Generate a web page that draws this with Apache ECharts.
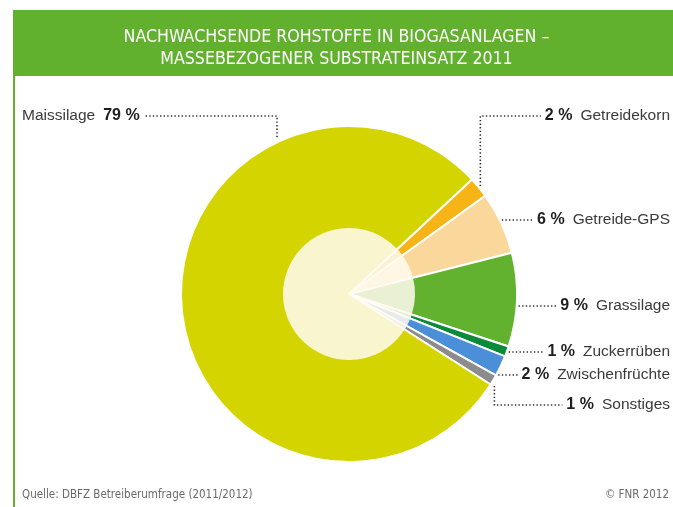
<!DOCTYPE html>
<html>
<head>
<meta charset="utf-8">
<script src="https://cdn.jsdelivr.net/npm/echarts@6/dist/echarts.min.js"></script>
<style>
html,body{margin:0;padding:0;background:#fff;}
#chart{width:673px;height:507px;}
</style>
</head>
<body>
<div id="chart"></div>
<script>
// ---- data ----
const categories = ['Getreidekorn', 'Getreide-GPS', 'Grassilage', 'Zuckerrüben', 'Zwischenfrüchte', 'Sonstiges', 'Maissilage'];
const values = [2, 6, 9, 1, 2, 1, 79];
const titleLines = ['NACHWACHSENDE ROHSTOFFE IN BIOGASANLAGEN –', 'MASSEBEZOGENER SUBSTRATEINSATZ 2011'];
const sourceText = 'Quelle: DBFZ Betreiberumfrage (2011/2012)';
const copyrightText = '© FNR 2012';

// ---- style / layout ----
const colors = ['#F6B417', '#FAD89C', '#63B22F', '#0B8A3B', '#4A8FD8', '#8C8C8C', '#D4D500'];
const labelY = [116, 220, 306, 352, 375, 405, 116];
const CX = 349, CY = 294, R = 168, R_IN = 66, START = 43;
const TEXT_FONT = "'Liberation Sans', Arial, sans-serif";
const COND_FONT = "'DejaVu Sans Condensed', 'Liberation Sans Narrow', sans-serif";
const GREEN = '#62B12E';

const total = values.reduce((a, b) => a + b, 0);
function sliceAngles(i) {
  let before = 0;
  for (let k = 0; k < i; k++) before += values[k];
  const a0 = START - 360 * before / total;
  const a1 = a0 - 360 * values[i] / total;
  return [a0, a1, (a0 + a1) / 2];
}
function polar(angDeg, r) {
  const a = angDeg * Math.PI / 180;
  return [CX + r * Math.cos(a), CY - r * Math.sin(a)];
}

const data = categories.map((c, i) => ({ name: c, value: values[i], itemStyle: { color: colors[i] } }));

const chart = echarts.init(document.getElementById('chart'), null, { renderer: 'canvas' });
chart.setOption({
  animation: false,
  backgroundColor: '#ffffff',
  graphic: [
    { type: 'rect', shape: { x: 13, y: 10, width: 660, height: 66 }, style: { fill: GREEN }, z: 0 },
    { type: 'rect', shape: { x: 13, y: 76, width: 2, height: 431 }, style: { fill: GREEN }, z: 0 },
    { type: 'text', left: 22, top: 489, style: { text: sourceText, font: '11.5px ' + COND_FONT, fill: '#6a6a6a' } },
    { type: 'text', right: 4, top: 489, style: { text: copyrightText, font: '11.5px ' + COND_FONT, fill: '#6a6a6a' } }
  ],
  title: {
    text: titleLines.join('\n'),
    left: 'center',
    top: 21,
    textStyle: { color: '#ffffff', fontFamily: COND_FONT, fontSize: 17.6, fontWeight: 'normal', lineHeight: 22 }
  },
  series: [
    {
      type: 'pie',
      center: [CX, CY],
      radius: [0, R],
      startAngle: START,
      clockwise: true,
      avoidLabelOverlap: false,
      silent: true,
      data: data,
      itemStyle: { borderColor: '#ffffff', borderWidth: 2 },
      label: {
        show: true,
        position: 'outside',
        formatter: function (p) {
          if (p.dataIndex === values.length - 1) return '{n|' + p.name + '}{s| }{v|' + p.value + ' %}';
          return '{v|' + p.value + ' %}{s| }{n|' + p.name + '}';
        },
        rich: {
          v: { fontFamily: TEXT_FONT, fontSize: 16, fontWeight: 'bold', color: '#1e1e1e' },
          n: { fontFamily: TEXT_FONT, fontSize: 15.5, color: '#3a3a3a' },
          s: { fontFamily: TEXT_FONT, fontSize: 16, width: 8 }
        }
      },
      labelLine: {
        show: true,
        smooth: false,
        lineStyle: { color: '#333333', width: 1.6, type: [1.4, 2.2] }
      },
      labelLayout: function (params) {
        const i = params.dataIndex;
        const w = params.labelRect.width;
        const y = labelY[i];
        const ang = sliceAngles(i);
        if (i === values.length - 1) {
          const lx = 22;
          const vx = 277;
          const ey = CY - Math.sqrt(R * R - (vx - CX) * (vx - CX)) - 5;
          return {
            x: lx, y: y, align: 'left', verticalAlign: 'middle',
            labelLinePoints: [[vx, ey], [vx, y], [lx + w + 4, y]]
          };
        }
        const rx = 670;
        const end = rx - w - 4;
        let pts;
        if (i === 0) {
          const p = polar(ang[2], R + 2);
          pts = [p, [p[0], y], [end, y]];
        } else if (i === 5) {
          const p = polar(ang[1] + 0.3, R + 4);
          pts = [p, [p[0], y], [end, y]];
        } else {
          const x0 = CX + Math.sqrt(R * R - (y - CY) * (y - CY)) + 2;
          pts = [[x0, y], [(x0 + end) / 2, y], [end, y]];
        }
        return { x: rx, y: y, align: 'right', verticalAlign: 'middle', labelLinePoints: pts };
      },
      emphasis: { disabled: true }
    },
    {
      type: 'pie',
      center: [CX, CY],
      radius: [0, R_IN],
      startAngle: START,
      clockwise: true,
      silent: true,
      z: 3,
      data: data.map(d => ({ name: d.name, value: d.value })),
      itemStyle: { color: 'rgba(255,250,240,0.86)', borderWidth: 0 },
      label: { show: false },
      labelLine: { show: false },
      emphasis: { disabled: true }
    }
  ]
});
</script>
</body>
</html>
